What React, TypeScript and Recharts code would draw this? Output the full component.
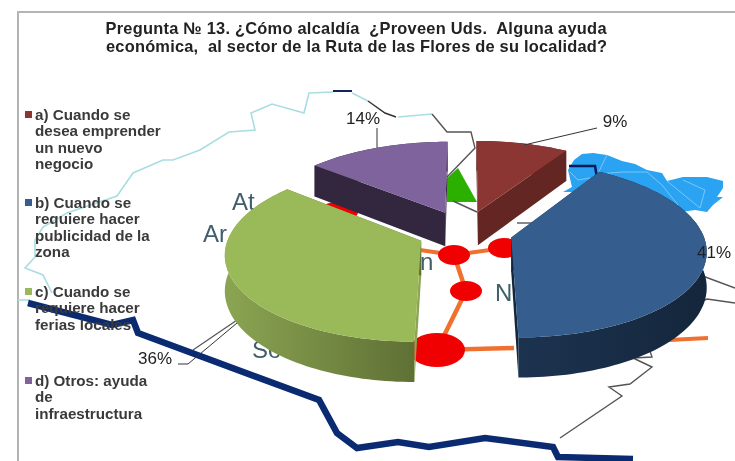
import { PieChart, Pie, Legend } from "recharts";

const categories = [
  "a) Cuando se\ndesea emprender\nun nuevo\nnegocio",
  "b) Cuando se\nrequiere hacer\npublicidad de la\nzona",
  "c) Cuando se\nrequiere hacer\nferias locales",
  "d) Otros: ayuda\nde\ninfraestructura",
];
const values = [9, 41, 36, 14];
const titleLines = [
  "Pregunta № 13. ¿Cómo alcaldía  ¿Proveen Uds.  Alguna ayuda",
  "económica,  al sector de la Ruta de las Flores de su localidad?",
];

const data = categories.map((name, i) => ({ name, value: values[i] }));

// top, wall (left), wall (right)
const sliceColors = [
  ["#8c3634", "#632623", "#632623"],
  ["#355d8e", "#1c3350", "#14263b"],
  ["#9aba59", "#8ba552", "#5f7035"],
  ["#7f639c", "#33263f", "#33263f"],
];
const legendTops = [107, 195, 284, 373];

// label spots and leader lines, in page pixels
const labelSpots = [
  { x: 615, y: 127, line: "524,145 597,128" },
  { x: 714, y: 258, line: "" },
  { x: 155, y: 364, line: "178,364 188,364 237,323" },
  { x: 363, y: 124, line: "377,128 377,148" },
];

const EXPLODE = 0.25;
const PERSPECTIVE = 0.132;
const FLATTEN = 0.445;
const DEPTH = 34.5;

function makeProjector(cx: number, cy: number, r: number) {
  return (u: number, v: number, drop = 0) => {
    const w = 1 - PERSPECTIVE * v;
    return [cx + (r * u) / w, cy + (r * FLATTEN * v) / w + (drop * DEPTH) / w];
  };
}

function PieSlice3D(props: any) {
  const { cx, cy, outerRadius, startAngle, endAngle, index } = props;
  const from = 90 - startAngle;
  const to = 90 - endAngle;
  const mid = (((from + to) / 2) * Math.PI) / 180;
  const ou = EXPLODE * Math.sin(mid);
  const ov = -EXPLODE * Math.cos(mid);
  const project = makeProjector(cx, cy, outerRadius);

  const rim: number[][] = [];
  for (let a = from; a < to; a += 1.5) {
    const t = (a * Math.PI) / 180;
    rim.push([ou + Math.sin(t), ov - Math.cos(t)]);
  }
  const last = (to * Math.PI) / 180;
  rim.push([ou + Math.sin(last), ov - Math.cos(last)]);

  const pts = (list: number[][]) => list.map((p) => p.join(",")).join(" ");
  const top = rim.map(([u, v]) => project(u, v));
  const bottom = rim.map(([u, v]) => project(u, v, 1));
  const apexTop = project(ou, ov);
  const apexBottom = project(ou, ov, 1);
  const n = rim.length - 1;
  const colors = sliceColors[index];
  const gradId = `wall-${index}`;

  return (
    <g>
      <defs>
        <linearGradient id={gradId} x1="0" y1="0" x2="1" y2="0">
          <stop offset="0%" stopColor={colors[1]} />
          <stop offset="100%" stopColor={colors[2]} />
        </linearGradient>
      </defs>
      <polygon points={pts([...top, ...[...bottom].reverse()])} fill={`url(#${gradId})`} />
      <polygon points={pts([apexTop, top[0], bottom[0], apexBottom])} fill={colors[1]} />
      <polygon points={pts([apexTop, top[n], bottom[n], apexBottom])} fill={colors[2]} />
      <polygon points={pts([apexTop, ...top])} fill={colors[0]} />
    </g>
  );
}

function PieLabel(props: any) {
  const { index, value } = props;
  const spot = labelSpots[index];
  return (
    <g>
      {spot.line && <polyline points={spot.line} fill="none" stroke="#333" strokeWidth={1} />}
      <text x={spot.x} y={spot.y} textAnchor="middle" fontSize={17} fontFamily="Liberation Sans" fill="#222">
        {value}%
      </text>
    </g>
  );
}

function LegendBlock() {
  return (
    <div>
      {categories.map((c, i) => (
        <div
          key={c}
          style={{
            position: "absolute",
            left: 35,
            top: legendTops[i],
            whiteSpace: "pre-line",
            font: "bold 15.2px/16.4px 'Liberation Sans'",
            color: "#3a3a3a",
          }}
        >
          <span
            style={{
              position: "absolute",
              left: -10,
              top: 4,
              width: 7,
              height: 7,
              background: sliceColors[i][0],
            }}
          />
          {c}
        </div>
      ))}
    </div>
  );
}

function MapBackdrop() {
  const ink = "#3f5f6b";
  return (
    <svg width={735} height={461} style={{ position: "absolute", left: 0, top: 0 }}>
      <rect width={735} height={461} fill="#fff" />
      <polyline points="18,461 18,12 735,12" fill="none" stroke="#b4b4b4" strokeWidth={2} />
      {/* department map top right */}
      <polygon
        points="582,154 593,153 607,155 622,161 635,164 647,170 662,173 667,181 683,177 707,177 723,181 723,188 717,197 723,197 713,205 707,212 695,210 660,215 610,200 570,192 563,192 572,187 568,170 574,160"
        fill="#29a3f2"
      />
      <polyline points="607,155 602,165 598,174 622,172 647,172 662,185 678,205" fill="none" stroke="#8fd0fa" strokeWidth={0.8} />
      <polyline points="683,180 705,190 700,208 667,181" fill="none" stroke="#8fd0fa" strokeWidth={0.8} />
      <polyline points="570,172 578,180 590,178" fill="none" stroke="#8fd0fa" strokeWidth={0.8} />
      <polyline points="569,166 595,166 597,178" fill="none" stroke="#061a5c" strokeWidth={2.5} />
      {/* borders */}
      <polyline
        points="52,293 43,275 25,268 35,257 35,240 43,227 67,213 117,196 133,173 163,160 173,160 200,150 229,132 255,130 251,113 272,104 304,113 309,93 333,92"
        fill="none"
        stroke="#aadde2"
        strokeWidth={1.6}
      />
      <polyline points="18,300 30,300" fill="none" stroke="#aadde2" strokeWidth={1.6} />
      <polyline points="352,93 368,101" fill="none" stroke="#aadde2" strokeWidth={1.6} />
      <polyline points="398,117 432,114" fill="none" stroke="#aadde2" strokeWidth={1.6} />
      <polyline points="333,91 352,91" fill="none" stroke="#12245e" strokeWidth={2} />
      <polyline points="368,101 385,113 396,117" fill="none" stroke="#333" strokeWidth={1.4} />
      <polyline points="432,114 447,132 471,132 475,148 447,177" fill="none" stroke="#555" strokeWidth={1.4} />
      <polygon points="458,168 447,178 447,202 477,202" fill="#2bb000" />
      <polyline points="453,201 477,212" fill="none" stroke="#555" strokeWidth={1.4} />
      <polyline points="517,223 532,223" fill="none" stroke="#555" strokeWidth={1.4} />
      <polyline points="560,438 622,396 609,387 630,384 652,367 633,358 652,357 648,345" fill="none" stroke="#555" strokeWidth={1.4} />
      <polyline points="700,275 735,288" fill="none" stroke="#555" strokeWidth={1.4} />
      <polyline points="700,302 707,299 735,303" fill="none" stroke="#555" strokeWidth={1.4} />
      <polyline points="193,350 240,318" fill="none" stroke="#555" strokeWidth={1.2} />
      <polyline
        points="28,303 112,325 133,320 138,333 319,400 337,433 357,448 398,442 429,447 485,438 553,447 558,457 633,459"
        fill="none"
        stroke="#0a2a72"
        strokeWidth={6.5}
      />
      {/* route */}
      <polyline points="420,250 454,255 504,248" fill="none" stroke="#f07030" strokeWidth={4} />
      <polyline points="454,255 466,291 437,350 514,348" fill="none" stroke="#f07030" strokeWidth={4.5} />
      <polyline points="650,341 708,338" fill="none" stroke="#f07030" strokeWidth={4} />
      <ellipse cx={454} cy={255} rx={16} ry={10} fill="#f00000" />
      <ellipse cx={504} cy={248} rx={16} ry={10} fill="#f00000" />
      <ellipse cx={466} cy={291} rx={16} ry={10} fill="#f00000" />
      <ellipse cx={437} cy={350} rx={28} ry={17} fill="#f00000" />
      <ellipse cx={338} cy={212} rx={20} ry={10} fill="#f00000" />
      <g fontFamily="Liberation Sans" fontSize={24} fill={ink}>
        <text x={232} y={210}>At</text>
        <text x={203} y={242}>Ar</text>
        <text x={420} y={270}>n</text>
        <text x={495} y={301}>N</text>
        <text x={252} y={358}>So</text>
      </g>
      <g fontFamily="Liberation Sans" fontWeight="bold" fontSize={16.4} fill="#222">
        <text x={105.5} y={33.5} textLength={501} lengthAdjust="spacing" style={{ whiteSpace: "pre" }}>{titleLines[0]}</text>
        <text x={106} y={51.5} textLength={501} lengthAdjust="spacing" style={{ whiteSpace: "pre" }}>{titleLines[1]}</text>
      </g>
    </svg>
  );
}

export default function App() {
  return (
    <div
      style={{
        position: "absolute",
        left: 0,
        top: 0,
        width: 735,
        height: 461,
        overflow: "hidden",
        filter: "blur(0.4px)",
      }}
    >
      <MapBackdrop />
      <PieChart
        width={735}
        height={461}
        style={{ position: "absolute", left: 0, top: 0 }}
        margin={{ top: 0, right: 0, bottom: 0, left: 0 }}
      >
        <Pie
          data={data}
          dataKey="value"
          nameKey="name"
          cx={465}
          cy={231.5}
          outerRadius={191}
          startAngle={90}
          endAngle={-270}
          stroke="none"
          isAnimationActive={false}
          shape={PieSlice3D}
          inactiveShape={PieSlice3D}
          label={PieLabel}
          labelLine={false}
        />
        <Legend
          content={LegendBlock}
          wrapperStyle={{ position: "absolute", left: 0, top: 0, width: 200, height: 0 }}
        />
      </PieChart>
    </div>
  );
}
